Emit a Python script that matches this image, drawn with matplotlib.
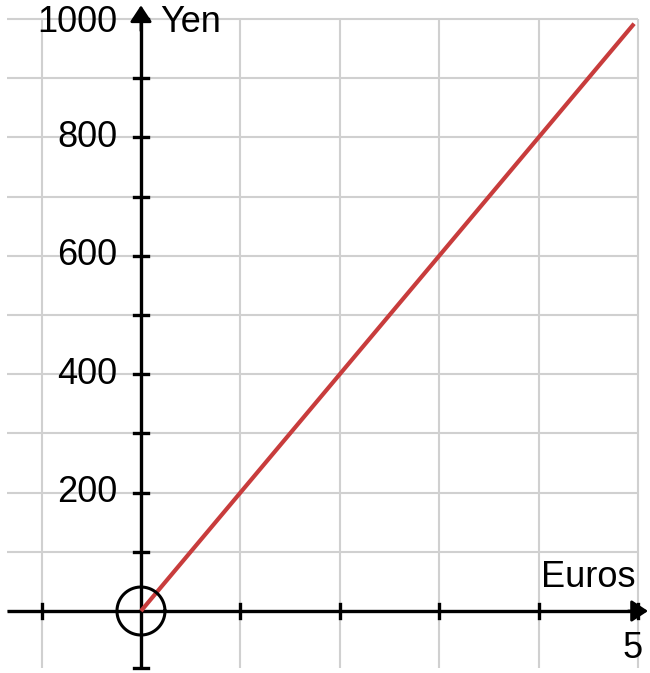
import matplotlib
matplotlib.use("Agg")
import matplotlib.pyplot as plt
import numpy as np

plt.rcParams['font.family'] = ['Liberation Sans', 'DejaVu Sans']

euros = [0, 4.96]
yen = [0, 992]
y_tick_labels = [200, 400, 600, 800, 1000]
x_grid = [-1, 0, 1, 2, 3, 4, 5]
y_grid = [0, 100, 200, 300, 400, 500, 600, 700, 800, 900, 1000]

fig = plt.figure(figsize=(6.5, 6.73), dpi=100)
ax = fig.add_axes([0, 0, 1, 1])
ax.set_xlim(-1.418, 5.12)
ax.set_ylim(-104.7, 1032)
ax.axis('off')

grid_c = '#d0d0d0'
ax.hlines(y_grid, -1.35, 5, colors=grid_c, lw=1.5, zorder=1)
ax.vlines(x_grid, -96, 1000, colors=grid_c, lw=1.5, zorder=1)

# axes
ax.plot([-1.35, 5.0], [0, 0], color='black', lw=2.4, zorder=3, solid_capstyle='butt')
ax.plot([0, 0], [-96, 1005], color='black', lw=2.4, zorder=3, solid_capstyle='butt')
arrow_style = '-|>,head_length=0.5,head_width=0.33'
ax.annotate('', xy=(5.10, 0), xytext=(4.9, 0),
            arrowprops=dict(arrowstyle=arrow_style, color='black', lw=2.0,
                            mutation_scale=20, shrinkA=0, shrinkB=0), zorder=4)
ax.annotate('', xy=(0, 1023), xytext=(0, 980),
            arrowprops=dict(arrowstyle=arrow_style, color='black', lw=2.0,
                            mutation_scale=20, shrinkA=0, shrinkB=0), zorder=4)

# ticks
px_x = 1 / 99.4
px_y = 1 / 0.592
for yv in y_grid[1:]:
    ax.plot([-7 * px_x, 7 * px_x], [yv, yv], color='black', lw=2.4, zorder=3)
ax.plot([-7 * px_x, 7 * px_x], [-96, -96], color='black', lw=2.4, zorder=3)
for xv in x_grid:
    if xv != 0:
        ax.plot([xv, xv], [-7 * px_y, 7 * px_y], color='black', lw=2.4, zorder=3)

# tick labels
fs = 26
for yv in y_tick_labels:
    yy = yv - 6 if yv == 1000 else yv
    ax.text(-0.24, yy, str(yv), ha='right', va='center', fontsize=fs, zorder=5)
ax.text(5.05, -64, '5', ha='right', va='center', fontsize=fs, zorder=5)
ax.text(0.19, 994, 'Yen', ha='left', va='center', fontsize=fs, zorder=5)
ax.text(4.02, 57, 'Euros', ha='left', va='center', fontsize=fs, zorder=5)

# data line
ax.plot(euros, yen, color='#c83c3c', lw=3.0, zorder=4, solid_capstyle='butt')

# circle at origin
t = np.linspace(0, 2 * np.pi, 200)
ax.plot(24 * px_x * np.cos(t), 24 * px_y * np.sin(t), color='black', lw=2.2, zorder=5)

fig.savefig('out.png', dpi=100)
